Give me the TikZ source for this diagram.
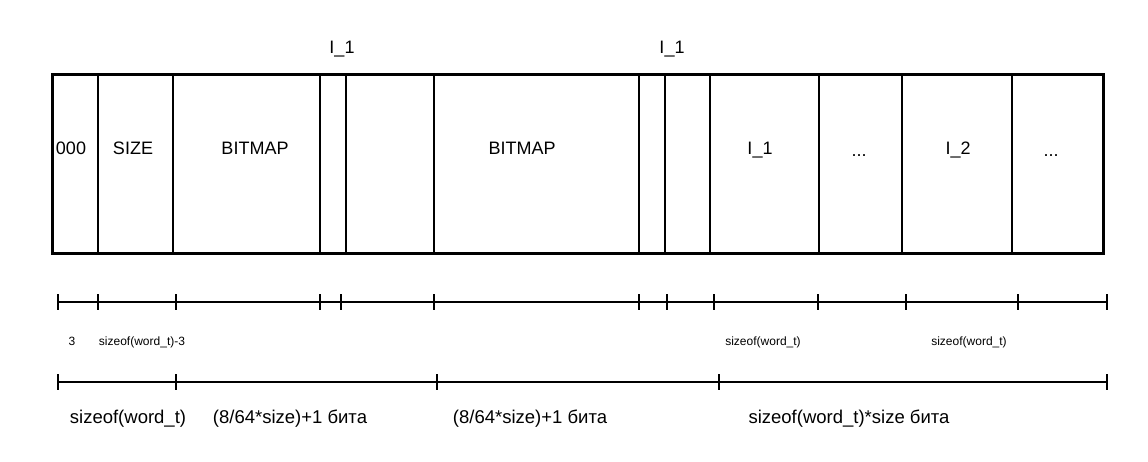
\documentclass[tikz,border=0pt]{standalone}
\usepackage{fontspec}
\setmainfont{Liberation Sans}
\begin{document}
\begin{tikzpicture}[x=1pt,y=-1pt,
  lbl/.style={inner sep=0pt, anchor=base, font=\fontsize{18}{20}\selectfont},
  sml/.style={inner sep=0pt, anchor=base, font=\fontsize{12}{14}\selectfont},
  big/.style={inner sep=0pt, anchor=base, font=\fontsize{18.5}{20}\selectfont},
  frame/.style={line width=3pt},
  div/.style={line width=1.5pt},
  rulerline/.style={line width=1.6pt}]
\useasboundingbox[fill=white] (0,0) rectangle (1148,461);
% cell dividers
\foreach \x in {98,173,320,346,434,639,665,710,819,902,1012}
  \draw[div] (\x,74) -- (\x,253);
\draw[frame] (52,74) rectangle (1103,253);
% cell labels
\node[lbl] (c0) at (71,154) {000};
\node[lbl] (c1) at (133,154) {SIZE};
\node[lbl] (c2) at (255,154) {BITMAP};
\node[lbl] (c3) at (522,154) {BITMAP};
\node[lbl] (c4) at (760,154) {I\_1};
\node[lbl] (c5) at (859,156) {...};
\node[lbl] (c6) at (958,154) {I\_2};
\node[lbl] (c7) at (1051,156) {...};
% top labels
\node[lbl] (t1) at (342,53) {I\_1};
\node[lbl] (t2) at (672,53) {I\_1};
% ruler 1
\draw[rulerline] (58,302) -- (1107,302);
\foreach \x in {58,98,176,320,341,434,639,667,714,818,906,1018,1107}
  \draw[rulerline] (\x,294) -- (\x,310);
% ruler 2
\draw[rulerline] (58,382) -- (1107,382);
\foreach \x in {58,176,437,719,1107}
  \draw[rulerline] (\x,374) -- (\x,390);
% small labels
\node[sml] (s1) at (72,345) {3};
\node[sml] (s2) at (142,345) {sizeof(word\_t)-3};
\node[sml] (s3) at (763,345) {sizeof(word\_t)};
\node[sml] (s4) at (969,345) {sizeof(word\_t)};
% big labels
\node[big] (b1) at (128,423) {sizeof(word\_t)};
\node[big] (b2) at (290,423) {(8/64*size)+1 бита};
\node[big] (b3) at (530,423) {(8/64*size)+1 бита};
\node[big] (b4) at (849,423) {sizeof(word\_t)*size бита};
\end{tikzpicture}
\end{document}
